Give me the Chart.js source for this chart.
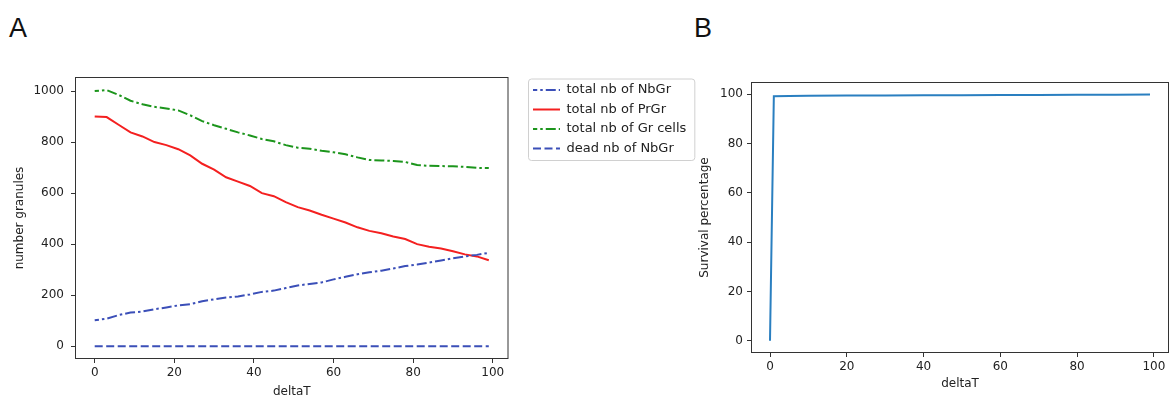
<!DOCTYPE html>
<html>
<head>
<meta charset="utf-8">
<script src="https://cdn.jsdelivr.net/npm/chart.js@4"></script>
<style>
  body { margin: 0; background: #fff; width: 1170px; height: 399px; position: relative; overflow: hidden; }
  .panel { position: absolute; font-family: "Liberation Sans", Arial, sans-serif; font-size: 27px; color: #111; }
  #wrapA { position: absolute; left: 0; top: 0; width: 697px; height: 399px; }
  #wrapB { position: absolute; left: 697px; top: 0; width: 473px; height: 399px; }
</style>
</head>
<body>
<div class="panel" style="left:9px; top:13px;">A</div>
<div class="panel" style="left:694px; top:13px;">B</div>
<div id="wrapA"><canvas id="chartA"></canvas></div>
<div id="wrapB"><canvas id="chartB"></canvas></div>
<script>
const deltaT = [0, 3, 6, 9, 12, 15, 18, 21, 24, 27, 30, 33, 36, 39, 42, 45, 48, 51, 54, 57, 60, 63, 66, 69, 72, 75, 78, 81, 84, 87, 90, 93, 96, 99];
const nbGr = [102, 108, 122, 132, 136, 145, 152, 160, 165, 176, 184, 191, 195, 203, 213, 218, 228, 238, 244, 250, 262, 272, 282, 290, 296, 305, 314, 320, 328, 336, 345, 352, 358, 366];
const prGr = [900, 898, 868, 838, 822, 800, 788, 772, 748, 715, 692, 662, 645, 628, 600, 588, 565, 545, 532, 515, 500, 485, 466, 452, 443, 430, 420, 400, 390, 383, 372, 360, 352, 337];
const grCells = [1000, 1004, 985, 962, 948, 938, 932, 924, 905, 882, 866, 852, 838, 826, 812, 803, 788, 778, 774, 766, 760, 752, 740, 730, 728, 726, 722, 710, 707, 706, 705, 703, 699, 698];
const deadNbGr = [0, 0, 0, 0, 0, 0, 0, 0, 0, 0, 0, 0, 0, 0, 0, 0, 0, 0, 0, 0, 0, 0, 0, 0, 0, 0, 0, 0, 0, 0, 0, 0, 0, 0];

const survivalT = [0, 1, 5, 10, 20, 30, 40, 50, 60, 70, 80, 90, 99];
const survival = [0, 99.2, 99.3, 99.4, 99.5, 99.55, 99.6, 99.65, 99.7, 99.75, 99.8, 99.85, 99.9];

const xTicks = [0, 20, 40, 60, 80, 100];
const yTicksA = [0, 200, 400, 600, 800, 1000];
const yTicksB = [0, 20, 40, 60, 80, 100];

const font = { family: "DejaVu Sans", size: 12 };
const textColor = "#222";

function pts(xs, ys) {
    return xs.map((x, i) => ({ x: x, y: ys[i] }));
}

// box around the plot, like matplotlib
const frame = {
    id: "frame",
    afterDraw(chart) {
        const { ctx, chartArea: a } = chart;
        ctx.save();
        ctx.strokeStyle = "#333";
        ctx.lineWidth = 1;
        ctx.strokeRect(a.left + 0.5, a.top + 0.5, a.width - 1, a.height - 1);
        ctx.restore();
    }
};

// push the legend a bit away from the plot, then draw its rounded frame
const legendBox = {
    id: "legendBox",
    afterLayout(chart) {
        const lg = chart.legend;
        lg.left = chart.chartArea.right + 18;
        lg.right = lg.left + lg.width;
    },
    beforeDraw(chart) {
        const lg = chart.legend;
        if (!lg || !lg.legendHitBoxes || !lg.legendHitBoxes.length) return;
        const hb = lg.legendHitBoxes;
        const left = Math.min(...hb.map(h => h.left)) - 5;
        const right = Math.max(...hb.map(h => h.left + h.width)) + 8;
        const top = hb[0].top - 5;
        const bottom = hb[hb.length - 1].top + hb[hb.length - 1].height + 5;
        const ctx = chart.ctx;
        ctx.save();
        ctx.beginPath();
        ctx.roundRect(left + 0.5, top + 0.5, right - left, bottom - top, 3);
        ctx.fillStyle = "#fff";
        ctx.fill();
        ctx.strokeStyle = "#d0d0d0";
        ctx.lineWidth = 1;
        ctx.stroke();
        ctx.restore();
    }
};

function xAxis(height) {
    return {
        type: "linear",
        min: -4.95,
        max: 103.95,
        afterBuildTicks: s => { s.ticks = xTicks.map(v => ({ value: v })); },
        afterFit: s => { s.height = height; },
        grid: { drawOnChartArea: false, drawTicks: true, tickLength: 4, color: "#333" },
        border: { display: false },
        ticks: { color: textColor, font: font, padding: 3, maxRotation: 0, callback: v => String(v) },
        title: { display: true, text: "deltaT", color: textColor, font: font, padding: { top: 0, bottom: 0 } }
    };
}

function yAxis(min, max, ticks, width, label, pad, titlePad) {
    return {
        type: "linear",
        min: min,
        max: max,
        afterBuildTicks: s => { s.ticks = ticks.map(v => ({ value: v })); },
        afterFit: s => { s.width = width; },
        grid: { drawOnChartArea: false, drawTicks: true, tickLength: 4, color: "#333" },
        border: { display: false },
        ticks: { color: textColor, font: font, padding: pad, callback: v => String(v) },
        title: { display: true, text: label, color: textColor, font: font, padding: { top: titlePad, bottom: 0 } }
    };
}

// dash patterns; offsets keep the legend sample (a flat box stroked there and back) clean
const dashDot = [10, 3, 2.5, 3];
const dashDotOffset = 5.75;
const dashed = [8, 3.5];

new Chart(document.getElementById("chartA"), {
    type: "line",
    data: {
        datasets: [
            { label: "total nb of NbGr", data: pts(deltaT, nbGr), borderColor: "#3b4fb8", borderWidth: 2, borderDash: dashDot, borderDashOffset: dashDotOffset },
            { label: "total nb of PrGr", data: pts(deltaT, prGr), borderColor: "#f42020", borderWidth: 2 },
            { label: "total nb of Gr cells", data: pts(deltaT, grCells), borderColor: "#1c951c", borderWidth: 2, borderDash: dashDot, borderDashOffset: dashDotOffset },
            { label: "dead nb of NbGr", data: pts(deltaT, deadNbGr), borderColor: "#3b4fb8", borderWidth: 2, borderDash: dashed }
        ]
    },
    options: {
        responsive: true,
        maintainAspectRatio: false,
        animation: false,
        elements: { point: { radius: 0 }, line: { tension: 0 } },
        layout: { padding: { top: 77, left: 0, bottom: 0, right: 19 } },
        scales: {
            x: xAxis(40),
            y: yAxis(-50, 1055, yTicksA, 75, "number granules", 7, 13)
        },
        plugins: {
            legend: {
                position: "right",
                align: "start",
                labels: {
                    boxWidth: 27,
                    boxHeight: 0,
                    padding: 6.5,
                    color: textColor,
                    font: { family: "DejaVu Sans", size: 13 }
                }
            },
            tooltip: { enabled: false }
        }
    },
    plugins: [frame, legendBox]
});

new Chart(document.getElementById("chartB"), {
    type: "line",
    data: {
        datasets: [
            { label: "survival", data: pts(survivalT, survival), borderColor: "#2a7fc0", borderWidth: 2 }
        ]
    },
    options: {
        responsive: true,
        maintainAspectRatio: false,
        animation: false,
        elements: { point: { radius: 0 }, line: { tension: 0 } },
        layout: { padding: { top: 82, left: 0, bottom: 8, right: 1 } },
        scales: {
            x: xAxis(38),
            y: yAxis(-5, 105, yTicksB, 54, "Survival percentage", 4, 1)
        },
        plugins: {
            legend: { display: false },
            tooltip: { enabled: false }
        }
    },
    plugins: [frame]
});
</script>
</body>
</html>
